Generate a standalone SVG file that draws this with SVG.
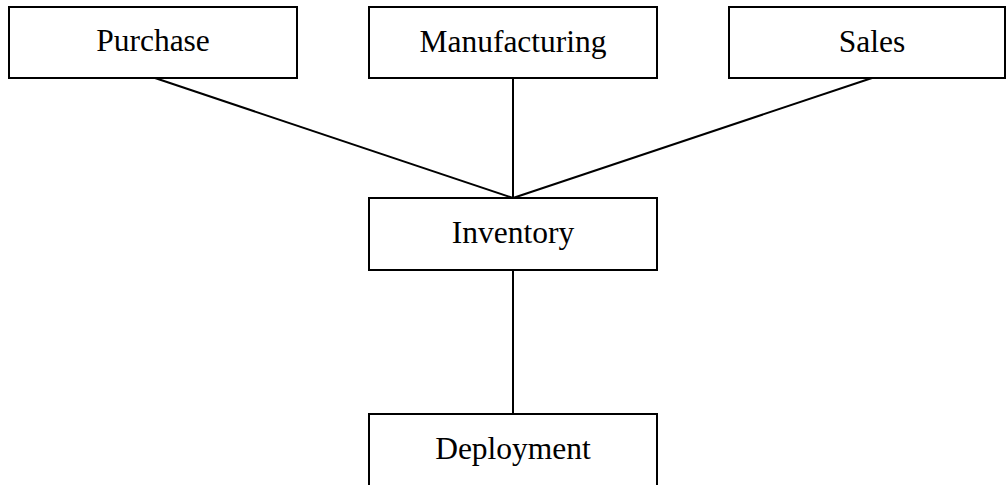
<svg xmlns="http://www.w3.org/2000/svg" width="1006" height="485" viewBox="0 0 1006 485">
<style>
.box{fill:#fff;stroke:#000;stroke-width:2}
.lbl{font-family:"Liberation Serif","Times New Roman",serif;font-size:31.5px;fill:#000;text-anchor:middle}
.conn line{stroke:#000;stroke-width:2}
</style>
<rect width="1006" height="485" fill="#fff"/>
<g class="conn" id="connectors">
<line x1="155" y1="78" x2="513" y2="198"/>
<line x1="513" y1="78" x2="513" y2="198"/>
<line x1="872" y1="78" x2="513" y2="198"/>
<line x1="513" y1="270" x2="513" y2="414"/>
</g>
<g id="purchase"><rect class="box" x="9" y="7" width="288" height="71"/><text class="lbl" x="153" y="51">Purchase</text></g>
<g id="manufacturing"><rect class="box" x="369" y="7" width="288" height="71"/><text class="lbl" x="513" y="52">Manufacturing</text></g>
<g id="sales"><rect class="box" x="729" y="7" width="276" height="71"/><text class="lbl" x="872" y="52">Sales</text></g>
<g id="inventory"><rect class="box" x="369" y="198" width="288" height="72"/><text class="lbl" x="513" y="243">Inventory</text></g>
<g id="deployment"><rect class="box" x="369" y="414" width="288" height="90"/><text class="lbl" x="513" y="459">Deployment</text></g>
</svg>
